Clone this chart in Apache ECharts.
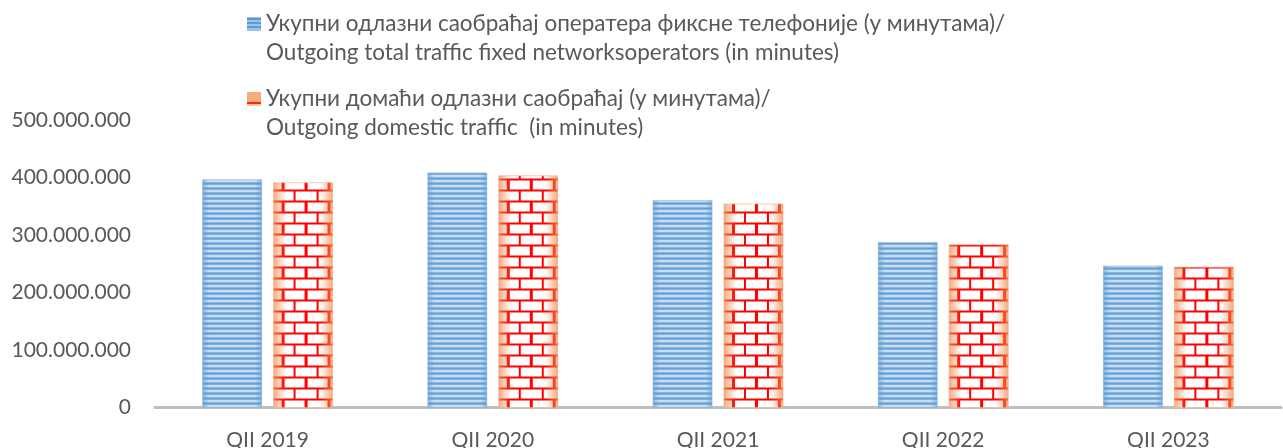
<!DOCTYPE html>
<html>
<head>
<meta charset="utf-8">
<script src="https://cdn.jsdelivr.net/npm/echarts@6/dist/echarts.min.js"></script>
<style>
  html, body { margin: 0; padding: 0; background: #fff; }
  #chart { width: 1283px; height: 448px; }
</style>
</head>
<body>
<div id="chart"></div>
<script>
// podaci sa grafika
const categories = ['QII 2019', 'QII 2020', 'QII 2021', 'QII 2022', 'QII 2023'];
const totalTraffic = [396000000, 408000000, 360000000, 287000000, 246000000];
const domesticTraffic = [391000000, 403000000, 354000000, 283000000, 244000000];
const yTicks = [0, 100000000, 200000000, 300000000, 400000000, 500000000];

const nameTotal = 'Укупни одлазни саобраћај оператера фиксне телефоније (у минутама)/\nOutgoing total traffic fixed networksoperators (in minutes)';
const nameDomestic = 'Укупни домаћи одлазни саобраћај (у минутама)/\nOutgoing domestic traffic  (in minutes)';

const FONT = 'Lato, "Noto Sans", sans-serif';

// pruge za plave stubove
function makeStripes() {
  const c = document.createElement('canvas');
  c.width = 4; c.height = 5;
  const ctx = c.getContext('2d');
  const rows = ['#6ea6db', '#5b9bd5', '#a9c9ea', '#e8f1fa', '#a9c9ea'];
  rows.forEach((col, i) => { ctx.fillStyle = col; ctx.fillRect(0, i, 4, 1); });
  return c;
}

// cigle za crvene stubove
function makeBricks() {
  const w = 23, h = 22;
  const c = document.createElement('canvas');
  c.width = w; c.height = h;
  const ctx = c.getContext('2d');
  ctx.fillStyle = '#ffffff';
  ctx.fillRect(0, 0, w, h);
  ctx.fillStyle = '#ff0000';
  ctx.fillRect(0, 0, w, 2);
  ctx.fillRect(0, 11, w, 2);
  ctx.fillRect(10, 2, 2, 9);
  ctx.fillRect(21, 13, 2, 9);
  ctx.fillRect(0, 13, 1, 9);
  return c;
}

const stripes = makeStripes();
const bricks = makeBricks();

function edgeGradient(rgb, a, stop) {
  return {
    type: 'linear', x: 0, y: 0, x2: 1, y2: 0,
    colorStops: [
      { offset: 0, color: 'rgba(' + rgb + ',' + a + ')' },
      { offset: stop, color: 'rgba(' + rgb + ',0)' },
      { offset: 1 - stop, color: 'rgba(' + rgb + ',0)' },
      { offset: 1, color: 'rgba(' + rgb + ',' + a + ')' }
    ]
  };
}

function renderBar(side) {
  return function (params, api) {
    const idx = api.value(0);
    const val = api.value(1);
    const base = api.coord([idx, 0]);
    const top = api.coord([idx, val]);
    const band = api.size([1, 0])[0];
    const barW = band * 0.262;
    const gap = band * 0.053;
    const x = side === 0 ? base[0] - gap / 2 - barW : base[0] + gap / 2;
    const shape = { x: x, y: top[1], width: barW, height: base[1] - top[1] };
    const pattern = side === 0
      ? { image: stripes, repeat: 'repeat', x: x, y: base[1] }
      : { image: bricks, repeat: 'repeat', x: x + 10, y: base[1] + 2 };
    const overlay = side === 0
      ? edgeGradient('91,155,213', 0.6, 0.12)
      : edgeGradient('238,140,80', 0.75, 0.22);
    return {
      type: 'group',
      children: [
        { type: 'rect', shape: shape, style: { fill: pattern } },
        { type: 'rect', shape: shape, style: { fill: overlay, stroke: side === 0 ? 'rgba(150,180,210,0.6)' : 'rgba(240,170,130,0.6)', lineWidth: 1 } }
      ]
    };
  };
}

// ikonica legende: kvadrat u gornjem delu polja visine 57
const ICON_H = 57;
const iconPath = 'path://M0,7.5L14,7.5L14,21.5L0,21.5Z M0,0 M14,' + ICON_H;

function stopsFrom(list) {
  const out = [];
  list.forEach(s => {
    out.push({ offset: s[0] / ICON_H, color: s[2] });
    out.push({ offset: s[1] / ICON_H, color: s[2] });
  });
  return out;
}

const blueIcon = {
  type: 'linear', x: 0, y: 0, x2: 0, y2: 1,
  colorStops: stopsFrom([
    [7.5, 9, '#9dc3e6'], [9, 10.5, '#5b9bd5'], [10.5, 13, '#9dc3e6'], [13, 14.5, '#5b9bd5'],
    [14.5, 17, '#9dc3e6'], [17, 18.5, '#5b9bd5'], [18.5, 21.5, '#9dc3e6']
  ])
};
const redIcon = {
  type: 'linear', x: 0, y: 0, x2: 0, y2: 1,
  colorStops: stopsFrom([[7.5, 17.5, '#f4ad7f'], [17.5, 19.5, '#ff2a00'], [19.5, 21.5, '#f6c4a4']])
};

const chart = echarts.init(document.getElementById('chart'));

chart.setOption({
  backgroundColor: '#ffffff',
  animation: false,
  legend: {
    orient: 'vertical',
    left: 247,
    top: 9.5,
    padding: 0,
    itemGap: 18,
    itemWidth: 14,
    itemHeight: ICON_H,
    selectedMode: false,
    textStyle: { fontFamily: FONT, fontSize: 22.5, lineHeight: 28.5, color: '#595959' },
    data: [
      { name: nameTotal, icon: iconPath, itemStyle: { color: blueIcon } },
      { name: nameDomestic, icon: iconPath, itemStyle: { color: redIcon } }
    ]
  },
  grid: { left: 155, right: 2, top: 120, bottom: 40.5, containLabel: false, outerBoundsMode: 'none' },
  xAxis: {
    type: 'category',
    data: categories,
    axisLine: { show: true, lineStyle: { color: '#bfbfbf', width: 3 } },
    axisTick: { show: false },
    axisLabel: { margin: 22, fontFamily: FONT, fontSize: 21, color: '#595959' }
  },
  yAxis: {
    type: 'value',
    min: yTicks[0],
    max: yTicks[yTicks.length - 1],
    interval: yTicks[1] - yTicks[0],
    axisLine: { show: false },
    axisTick: { show: false },
    splitLine: { show: false },
    axisLabel: {
      margin: 24,
      fontFamily: FONT,
      fontSize: 21,
      color: '#595959',
      formatter: v => v === 0 ? '0' : String(v).replace(/\B(?=(\d{3})+(?!\d))/g, '.')
    }
  },
  series: [
    {
      name: nameTotal,
      type: 'custom',
      renderItem: renderBar(0),
      itemStyle: { color: '#5b9bd5' },
      encode: { x: 0, y: 1 },
      data: totalTraffic.map((v, i) => [i, v])
    },
    {
      name: nameDomestic,
      type: 'custom',
      renderItem: renderBar(1),
      itemStyle: { color: '#f4ad7f' },
      encode: { x: 0, y: 1 },
      data: domesticTraffic.map((v, i) => [i, v])
    }
  ]
});
</script>
</body>
</html>
